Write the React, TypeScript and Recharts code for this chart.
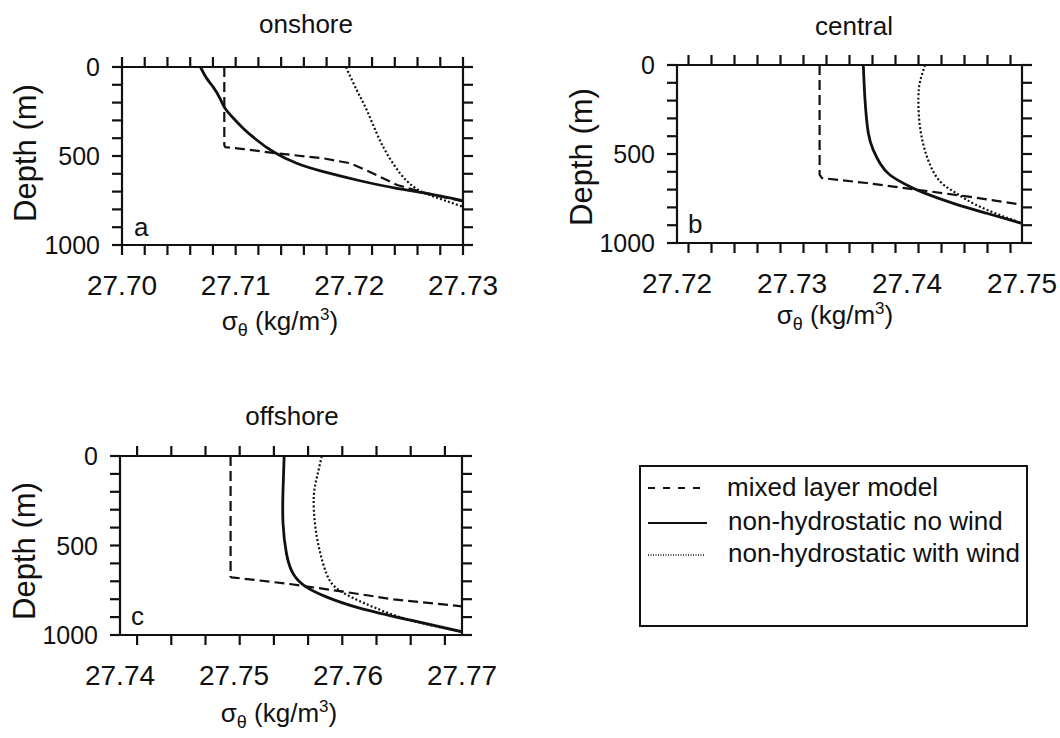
import React from 'react';
import { LineChart, Line, XAxis, YAxis } from 'recharts';

type Pt = { s: number; d: number };

// onshore (a)
const aMixed: Pt[] = [
	{ s: 27.709, d: 0 }, { s: 27.709, d: 440 }, { s: 27.7091, d: 450 }, { s: 27.7107, d: 461 },
	{ s: 27.7136, d: 485 }, { s: 27.7177, d: 513 }, { s: 27.7201, d: 541 }, { s: 27.7224, d: 607 },
	{ s: 27.7242, d: 663 }, { s: 27.7268, d: 710 }, { s: 27.73, d: 755 },
];
const aNoWind: Pt[] = [
	{ s: 27.7069, d: 0 }, { s: 27.70745, d: 64 }, { s: 27.708, d: 110 }, { s: 27.70862, d: 176 },
	{ s: 27.70906, d: 232 }, { s: 27.7098, d: 288 }, { s: 27.71067, d: 345 }, { s: 27.71185, d: 410 },
	{ s: 27.71331, d: 476 }, { s: 27.71537, d: 541 }, { s: 27.71771, d: 588 }, { s: 27.72094, d: 639 },
	{ s: 27.72417, d: 682 }, { s: 27.72681, d: 710 }, { s: 27.73, d: 751 },
];
const aWind: Pt[] = [
	{ s: 27.7197, d: 0 }, { s: 27.72065, d: 129 }, { s: 27.72153, d: 242 }, { s: 27.72241, d: 373 },
	{ s: 27.72329, d: 485 }, { s: 27.72446, d: 597 }, { s: 27.72563, d: 672 }, { s: 27.72681, d: 713 },
	{ s: 27.72827, d: 747 }, { s: 27.73, d: 785 },
];

// central (b)
const bMixed: Pt[] = [
	{ s: 27.7324, d: 0 }, { s: 27.7324, d: 616 }, { s: 27.7326, d: 635 }, { s: 27.7365, d: 663 },
	{ s: 27.7408, d: 700 }, { s: 27.7452, d: 738 }, { s: 27.75, d: 785 },
];
const bNoWind: Pt[] = [
	{ s: 27.7362, d: 0 }, { s: 27.73635, d: 197 }, { s: 27.73664, d: 384 }, { s: 27.73707, d: 478 },
	{ s: 27.73765, d: 552 }, { s: 27.73852, d: 618 }, { s: 27.73997, d: 674 }, { s: 27.74142, d: 717 },
	{ s: 27.74403, d: 777 }, { s: 27.74693, d: 833 }, { s: 27.75, d: 890 },
];
const bWind: Pt[] = [
	{ s: 27.74157, d: 0 }, { s: 27.74113, d: 94 }, { s: 27.74099, d: 185 }, { s: 27.74107, d: 316 },
	{ s: 27.74142, d: 447 }, { s: 27.742, d: 560 }, { s: 27.74287, d: 654 }, { s: 27.74403, d: 710 },
	{ s: 27.74519, d: 757 }, { s: 27.74693, d: 813 }, { s: 27.75, d: 890 },
];

// offshore (c)
const cMixed: Pt[] = [
	{ s: 27.7497, d: 0 }, { s: 27.7497, d: 674 }, { s: 27.7498, d: 678 }, { s: 27.7549, d: 715 },
	{ s: 27.7596, d: 758 }, { s: 27.764, d: 801 }, { s: 27.77, d: 840 },
];
const cNoWind: Pt[] = [
	{ s: 27.7544, d: 0 }, { s: 27.7543, d: 190 }, { s: 27.7543, d: 376 }, { s: 27.7546, d: 544 },
	{ s: 27.7551, d: 647 }, { s: 27.7561, d: 721 }, { s: 27.7581, d: 787 }, { s: 27.7611, d: 851 },
	{ s: 27.7654, d: 916 }, { s: 27.77, d: 982 },
];
const cWind: Pt[] = [
	{ s: 27.7577, d: 0 }, { s: 27.7573, d: 110 }, { s: 27.757, d: 222 }, { s: 27.7571, d: 376 },
	{ s: 27.7575, d: 525 }, { s: 27.7581, d: 655 }, { s: 27.759, d: 739 }, { s: 27.7608, d: 804 },
	{ s: 27.7625, d: 851 }, { s: 27.7654, d: 916 }, { s: 27.77, d: 982 },
];

// tick values
const aLabels = [27.7, 27.71, 27.72, 27.73];
const aMinor = [27.7, 27.702, 27.704, 27.706, 27.708, 27.71, 27.712, 27.714, 27.716, 27.718, 27.72, 27.722, 27.724, 27.726, 27.728, 27.73];
const bLabels = [27.72, 27.73, 27.74, 27.75];
const bMinor = [27.721, 27.723, 27.725, 27.727, 27.729, 27.731, 27.733, 27.735, 27.737, 27.739, 27.741, 27.743, 27.745, 27.747, 27.749];
const cLabels = [27.74, 27.75, 27.76, 27.77];
const cMinor = [27.7415, 27.7445, 27.7475, 27.7505, 27.7535, 27.7565, 27.7595, 27.7625, 27.7655, 27.7685];
const depthMinor = [0, 100, 200, 300, 400, 500, 600, 700, 800, 900, 1000];
const depthLabels = [0, 500, 1000];

const legendNames = ['mixed layer model', 'non-hydrostatic no wind', 'non-hydrostatic with wind'];

const FONT = '"Liberation Sans", Arial, sans-serif';
const INK = '#111';
const axisLine = { stroke: INK, strokeWidth: 2.2 };

const has = (arr: number[], v: number) => arr.some((t) => Math.abs(t - v) < 1e-6);
const merge = (a: number[], b: number[]) => {
	const out = [...a];
	b.forEach((v) => {
		if (!has(out, v)) out.push(v);
	});
	return out.sort((x, y) => x - y);
};

const makeTick = (side: string, minor: number[], labels: number[]) => (p: any) => {
	const v = p.payload.value;
	const m = has(minor, v);
	const l = has(labels, v);
	const { x, y } = p;
	let line = null;
	let text = null;
	if (side === 'bottom') {
		if (m) line = <line x1={x} x2={x} y1={y} y2={y + 10} stroke={INK} strokeWidth={2.2} />;
		if (l)
			text = (
				<text x={x} y={y + 50} textAnchor="middle" fontSize={28} fontFamily={FONT} fill={INK}>
					{v.toFixed(2)}
				</text>
			);
	} else if (side === 'top') {
		if (m) line = <line x1={x} x2={x} y1={y} y2={y - 10} stroke={INK} strokeWidth={2.2} />;
	} else if (side === 'left') {
		if (m) line = <line x1={x - 10} x2={x} y1={y} y2={y} stroke={INK} strokeWidth={2.2} />;
		if (l)
			text = (
				<text x={x - 22} y={y} textAnchor="end" dominantBaseline="central" fontSize={25} fontFamily={FONT} fill={INK}>
					{v}
				</text>
			);
	} else {
		if (m) line = <line x1={x} x2={x + 10} y1={y} y2={y} stroke={INK} strokeWidth={2.2} />;
	}
	return (
		<g>
			{line}
			{text}
		</g>
	);
};

interface PanelProps {
	left: number;
	top: number;
	plotW: number;
	plotH: number;
	domain: [number, number];
	minor: number[];
	labels: number[];
	mixed: Pt[];
	noWind: Pt[];
	wind: Pt[];
}

const Panel = ({ left, top, plotW, plotH, domain, minor, labels, mixed, noWind, wind }: PanelProps) => {
	return (
		<div style={{ position: 'absolute', left, top }}>
			<LineChart width={110 + plotW + 38} height={15 + plotH + 60} margin={{ top: 0, right: 0, bottom: 0, left: 0 }}>
				<XAxis
					xAxisId="b"
					type="number"
					dataKey="s"
					domain={domain}
					allowDataOverflow
					ticks={merge(minor, labels)}
					interval={0}
					height={60}
					tickSize={0}
					tickMargin={0}
					tickLine={false}
					axisLine={axisLine}
					tick={makeTick('bottom', minor, labels)}
				/>
				<XAxis
					xAxisId="t"
					orientation="top"
					type="number"
					dataKey="s"
					domain={domain}
					allowDataOverflow
					ticks={minor}
					interval={0}
					height={15}
					tickSize={0}
					tickMargin={0}
					tickLine={false}
					axisLine={axisLine}
					tick={makeTick('top', minor, [])}
				/>
				<YAxis
					yAxisId="l"
					type="number"
					domain={[0, 1000]}
					reversed
					allowDataOverflow
					ticks={depthMinor}
					interval={0}
					width={110}
					tickSize={0}
					tickMargin={0}
					tickLine={false}
					axisLine={axisLine}
					tick={makeTick('left', depthMinor, depthLabels)}
				/>
				<YAxis
					yAxisId="r"
					orientation="right"
					type="number"
					domain={[0, 1000]}
					reversed
					allowDataOverflow
					ticks={depthMinor}
					interval={0}
					width={38}
					tickSize={0}
					tickMargin={0}
					tickLine={false}
					axisLine={axisLine}
					tick={makeTick('right', depthMinor, [])}
				/>
				<Line xAxisId="b" yAxisId="l" data={mixed} dataKey="d" type="linear" stroke={INK} strokeWidth={2.2} strokeDasharray="10 5" dot={false} activeDot={false} isAnimationActive={false} />
				<Line xAxisId="b" yAxisId="l" data={noWind} dataKey="d" type="natural" stroke={INK} strokeWidth={2.8} dot={false} activeDot={false} isAnimationActive={false} />
				<Line xAxisId="b" yAxisId="l" data={wind} dataKey="d" type="natural" stroke={INK} strokeWidth={2.2} strokeDasharray="2 2.2" dot={false} activeDot={false} isAnimationActive={false} />
			</LineChart>
		</div>
	);
};

const SigmaLabel = ({ x, y }: { x: number; y: number }) => (
	<text x={x} y={y} textAnchor="middle" fontSize={26} fontFamily={FONT} fill={INK}>
		<tspan>σ</tspan>
		<tspan fontSize={18} dy={6}>θ</tspan>
		<tspan dy={-6}> (kg/m</tspan>
		<tspan fontSize={17} dy={-10}>3</tspan>
		<tspan dy={10}>)</tspan>
	</text>
);

const DepthLabel = ({ x, y }: { x: number; y: number }) => (
	<text x={x} y={y} transform={`rotate(-90 ${x} ${y})`} textAnchor="middle" dominantBaseline="central" fontSize={31} fontFamily={FONT} fill={INK}>
		Depth (m)
	</text>
);

const App = () => {
	return (
		<div style={{ position: 'absolute', left: 0, top: 0, width: 1060, height: 738, background: '#fff', overflow: 'hidden', fontFamily: FONT }}>
			<style>{'.recharts-surface{overflow:visible}'}</style>
			<svg width={1060} height={738} style={{ position: 'absolute', left: 0, top: 0 }}>
				<text x={306} y={33} textAnchor="middle" fontSize={26} fontFamily={FONT} fill={INK}>onshore</text>
				<text x={854} y={35} textAnchor="middle" fontSize={26} fontFamily={FONT} fill={INK}>central</text>
				<text x={292} y={425} textAnchor="middle" fontSize={26} fontFamily={FONT} fill={INK}>offshore</text>
				<SigmaLabel x={280} y={330} />
				<SigmaLabel x={835} y={324} />
				<SigmaLabel x={279} y={722} />
				<DepthLabel x={25} y={153} />
				<DepthLabel x={581} y={157} />
				<DepthLabel x={24} y={551} />
				<text x={134} y={236} fontSize={26} fontFamily={FONT} fill={INK}>a</text>
				<text x={688} y={233} fontSize={26} fontFamily={FONT} fill={INK}>b</text>
				<text x={131} y={625} fontSize={26} fontFamily={FONT} fill={INK}>c</text>
				<rect x={640} y={466} width={387} height={160} fill="none" stroke={INK} strokeWidth={2} />
				<line x1={648} x2={705} y1={488} y2={488} stroke={INK} strokeWidth={2} strokeDasharray="7 8" />
				<line x1={648} x2={707} y1={523} y2={523} stroke={INK} strokeWidth={2.2} />
				<line x1={648} x2={705} y1={555} y2={555} stroke={INK} strokeWidth={1.5} strokeDasharray="1 1.5" />
				<text x={727} y={496} fontSize={26} fontFamily={FONT} fill={INK}>{legendNames[0]}</text>
				<text x={728} y={530} fontSize={26} fontFamily={FONT} fill={INK}>{legendNames[1]}</text>
				<text x={728} y={562} fontSize={26} fontFamily={FONT} fill={INK}>{legendNames[2]}</text>
			</svg>
			<Panel left={12} top={52} plotW={341} plotH={178} domain={[27.7, 27.73]} minor={aMinor} labels={aLabels} mixed={aMixed} noWind={aNoWind} wind={aWind} />
			<Panel left={567} top={50} plotW={345} plotH={178} domain={[27.72, 27.75]} minor={bMinor} labels={bLabels} mixed={bMixed} noWind={bNoWind} wind={bWind} />
			<Panel left={10} top={441} plotW={342} plotH={179} domain={[27.74, 27.77]} minor={cMinor} labels={cLabels} mixed={cMixed} noWind={cNoWind} wind={cWind} />
		</div>
	);
};

export default App;
